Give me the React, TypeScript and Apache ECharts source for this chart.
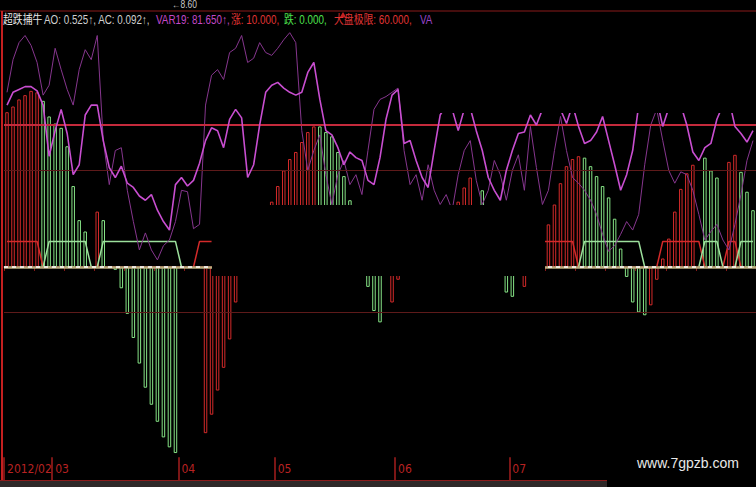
import React, { useEffect, useRef } from "react";
import * as echarts from "echarts";

const _ = null;

// trading-day slots (Feb 2012 .. Aug 2012)
const categories: string[] = Array.from({ length: 125 }, (_v, i) => `T${i + 1}`);
const monthStartIdx = [0, 8, 29, 45, 65, 84];
const monthLabels = ["2012/02", "03", "04", "05", "06", "07"];

// histogram values (R = red, G = green, . = none)
const histValues: (number | null)[] = [
  109, 113, 118, 121, 124, 123, 117, 106, 101, 98,
  85, 57, 33, 25, _, 39, 33, _, -2, -15,
  -33, -50, -68, -85, -97, -109, -120, -127, -131, _,
  _, _, _, -117, -104, -87, -71, -51, -25, _,
  _, _, _, _, 46, 57, 68, 76, 81, 88,
  95, 99, 99, 95, 92, 81, 64, 47, _, _,
  -14, -31, -39, _, -25, -9, _, _, _, _,
  _, _, _, _, _, 46, 56, 63, _, 54,
  _, _, _, -18, -21, _, -14, _, _, _,
  30, 44, 59, 71, 76, 78, 77, 71, 64, 57,
  49, 34, 13, -7, -25, -32, -34, -27, -9, 6,
  20, 39, 55, 66, 72, _, 77, 68, 63, _,
  74, 79, 67, 53, 40,
];
const histColors = [
  "RRRRRRGGGG", "GGGG.RG.GG", "GGGGGGGGG.", "...RRRRRR.", "....RRRRRR",
  "RRGGGGGG..", "GGG.RR....", ".....RRR.G", "...GG.R...", "RRRRRRGGGG",
  "GGGGGGGRRR", "RRRRR.GGG.", "RRGGG",
].join("");

// VAR19 (bright magenta)
const var19Line: number[] = [
  114, 123, 125, 127, 127, 124, 114, 78, 96, 111,
  94, 65, 72, 107, 114, 114, 89, 70, 63, 71,
  59, 56, 50, 47, 51, 40, 32, 26, 58, 63,
  57, 61, 73, 89, 98, 96, 84, 104, 111, 105,
  63, 72, 100, 123, 128, 130, 126, 123, 121, 123,
  137, 144, 118, 96, 93, 84, 72, 81, 77, 75,
  61, 58, 77, 104, 121, 125, 87, 89, 75, 63,
  56, 82, 107, 114, 111, 96, 111, 112, 96, 82,
  63, 54, 47, 68, 82, 94, 95, 107, 100, 111,
  114, 112, 111, 101, 114, 99, 87, 89, 95, 106,
  89, 72, 54, 65, 82, 114, 118, 114, 118, 99,
  112, 118, 114, 100, 81, 75, 84, 87, 104, 114,
  118, 99, 94, 88, 96,
];

// secondary (dim purple)
const dimLine: number[] = [
  123, 146, 158, 163, 156, 144, 121, 128, 154, 139,
  125, 114, 139, 153, 146, 163, 89, 58, 82, 84,
  54, 32, 12, 24, 12, 5, 15, 19, 32, 54,
  53, 27, 30, 114, 135, 139, 132, 151, 154, 163,
  144, 147, 158, 151, 149, 154, 160, 165, 158, 96,
  68, 82, 93, 65, 44, 65, 75, 58, 65, 51,
  82, 111, 118, 120, 123, 126, 82, 58, 65, 47,
  72, 54, 44, 51, 40, 65, 82, 89, 61, 44,
  54, 75, 65, 47, 68, 79, 54, 99, 70, 44,
  54, 82, 106, 82, 63, 59, 54, 47, 37, 23,
  11, 15, 23, 32, 26, 37, 72, 100, 111, 89,
  68, 59, 67, 65, 54, 37, 19, 25, 30, 19,
  12, 30, 51, 75, 89,
];

// plateau signals
const riseSignal: (number | null)[] = [
  18, 18, 18, 18, 18, 18, 0, _, _, _,
  _, _, _, _, _, _, _, _, _, _,
  _, _, _, _, _, _, _, _, _, _,
  _, 0, 18, 18, 18, _, _, _, _, _,
  _, _, _, _, _, _, _, _, _, _,
  _, _, _, _, _, _, _, _, _, _,
  _, _, _, _, _, _, _, _, _, _,
  _, _, _, _, _, _, _, _, _, _,
  _, _, _, _, _, _, _, _, _, 18,
  18, 18, 18, 18, 18, 0, _, _, _, _,
  _, _, _, _, _, _, _, _, 0, 18,
  18, 18, 18, 18, 18, 18, 0, _, _, 0,
  18, 18, 0, _, _,
];
const fallSignal: (number | null)[] = [
  _, _, _, _, _, _, 0, 18, 18, 18,
  18, 18, 18, 18, 0, 0, 18, 18, 18, 18,
  18, 18, 18, 18, 18, 18, 18, 18, 18, 0,
  _, _, _, _, _, _, _, _, _, _,
  _, _, _, _, _, _, _, _, _, _,
  _, _, _, _, _, _, _, _, _, _,
  _, _, _, _, _, _, _, _, _, _,
  _, _, _, _, _, _, _, _, _, _,
  _, _, _, _, _, _, _, _, _, _,
  _, _, _, _, _, 0, 18, 18, 18, 18,
  18, 18, 18, 18, 18, 18, 0, _, _, _,
  _, _, _, _, _, 0, 18, 18, 18, 0,
  _, 0, 18, 18, 18,
];

const refLevels = [100, 68, -32];
const yRange = [-134, 168];

const RED = "#d42a2a";
const GREEN = "#86e486";
const NARROW = "'Liberation Sans Narrow','DejaVu Sans Condensed','Arial Narrow',sans-serif";
const SANS = "'Liberation Sans','Noto Sans CJK SC',sans-serif";

function buildOption(): any {
  const barData = histValues.map((v, i) =>
    v == null
      ? "-"
      : {
          value: v,
          itemStyle: {
            color: "rgba(0,0,0,0)",
            borderColor: histColors[i] === "R" ? RED : GREEN,
            borderWidth: 1,
          },
        }
  );

  const isMonth = (i: number) => monthStartIdx.indexOf(i) >= 0;
  const monthText = (_v: string, i: number) => {
    const k = monthStartIdx.indexOf(i);
    return k >= 0 ? monthLabels[k] : "";
  };
  const labelStyle = {
    color: "#b82222",
    fontSize: 12,
    fontFamily: NARROW,
    align: "left",
    margin: 6,
    showMinLabel: true,
    hideOverlap: false,
    formatter: monthText,
  };

  const titleSegs: [string, number, string][] = [
    ["超跌捕牛", 3, "#e6e6e6"],
    ["AO: 0.525↑, AC: 0.092↑,", 44, "#cfcfcf"],
    ["VAR19: 81.650↑,", 156, "#c448c8"],
    ["涨: 10.000,", 231, "#e03434"],
    ["跌: 0.000,", 284, "#4ee04e"],
    ["大盘极限: 60.000,", 334, "#e03434"],
    ["VA", 420, "#9a44c8"],
  ];

  return {
    backgroundColor: "#000",
    animation: false,
    grid: { left: 4, right: 0, top: 28.4, bottom: 29.7, containLabel: false },
    xAxis: [
      {
        type: "category",
        data: categories,
        boundaryGap: true,
        axisLine: { show: true, lineStyle: { color: "#8c1a1a", width: 1.5 } },
        axisTick: { show: true, interval: 4, length: 4, lineStyle: { color: "#8c1a1a" } },
        axisLabel: { ...labelStyle, show: true, interval: (i: number) => i === monthStartIdx[0] },
        splitLine: { show: false },
      },
      {
        type: "category",
        data: categories,
        boundaryGap: true,
        position: "bottom",
        axisLine: { show: false },
        axisTick: {
          show: true,
          interval: (i: number) => isMonth(i),
          length: 23,
          lineStyle: { color: "#a41e1e", width: 1.5 },
        },
        axisLabel: {
          ...labelStyle,
          show: true,
          interval: (i: number) => isMonth(i) && i !== monthStartIdx[0],
        },
        splitLine: { show: false },
      },
    ],
    yAxis: {
      type: "value",
      min: yRange[0],
      max: yRange[1],
      axisLine: { show: false },
      axisTick: { show: false },
      axisLabel: { show: false },
      splitLine: { show: false },
    },
    series: [
      {
        type: "bar",
        data: barData,
        barWidth: 3.5,
        z: 2,
        markLine: {
          silent: true,
          symbol: ["none", "none"],
          label: { show: false },
          data: [
            { yAxis: refLevels[0], lineStyle: { color: "#c42a3c", width: 2, type: "solid" } },
            { yAxis: refLevels[1], lineStyle: { color: "#5e1a1a", width: 1.2, type: "solid" } },
            { yAxis: refLevels[2], lineStyle: { color: "#5e1a1a", width: 1.2, type: "solid" } },
            { yAxis: 0, lineStyle: { color: "#bcae80", width: 2.5, type: "solid" } },
            { yAxis: 0, lineStyle: { color: "#ffffff", width: 1.5, type: [4, 4] } },
          ],
        },
      },
      {
        type: "line",
        data: riseSignal,
        symbol: "none",
        z: 3,
        lineStyle: { color: RED, width: 1.5 },
      },
      {
        type: "line",
        data: fallSignal,
        symbol: "none",
        z: 3,
        lineStyle: { color: "#9ce09c", width: 1.5 },
      },
      {
        type: "line",
        data: dimLine,
        symbol: "none",
        z: 4,
        lineStyle: { color: "#86368e", width: 1 },
      },
      {
        type: "line",
        data: var19Line,
        symbol: "none",
        z: 5,
        lineStyle: { color: "#c84ed0", width: 1.6 },
      },
    ],
    graphic: [
      // masks that hide parts of the plot
      { type: "rect", z: 50, shape: { x: 212, y: 205, width: 333, height: 71 }, style: { fill: "#000" } },
      { type: "rect", z: 50, shape: { x: 405, y: 28, width: 351, height: 85 }, style: { fill: "#000" } },
      // frame
      { type: "line", z: 60, shape: { x1: 0, y1: 11, x2: 756, y2: 11 }, style: { stroke: "#5c1212", lineWidth: 1.5 } },
      { type: "line", z: 60, shape: { x1: 2, y1: 11, x2: 2, y2: 481 }, style: { stroke: "#c42020", lineWidth: 2 } },
      { type: "line", z: 60, shape: { x1: 0, y1: 480.5, x2: 607, y2: 480.5 }, style: { stroke: "#8c1a1a", lineWidth: 1 } },
      { type: "rect", z: 60, shape: { x: 0, y: 481, width: 607, height: 6 }, style: { fill: "#2e2828" } },
      { type: "rect", z: 60, shape: { x: 608, y: 456, width: 148, height: 31 }, style: { fill: "#000" } },
      {
        type: "text", z: 61, x: 637, y: 463,
        style: { text: "www.7gpzb.com", fill: "#e8e8e8", fontSize: 14, fontFamily: SANS, verticalAlign: "middle" },
      },
      // title line
      ...titleSegs.map(([t, x, c]) => ({
        type: "text", z: 61, x, y: 20, scaleX: 0.82,
        style: { text: t, fill: c, fontSize: 12, fontFamily: SANS, verticalAlign: "middle" },
      })),
      {
        type: "text", z: 61, x: 172, y: 5, scaleX: 0.85,
        style: { text: "←8.60", fill: "#c8c8c8", fontSize: 10, fontFamily: SANS, verticalAlign: "middle" },
      },
      {
        type: "polygon", z: 61,
        shape: { points: [[340, 17], [343, 12], [346, 17]] },
        style: { fill: "#c42020" },
      },
    ],
  };
}

export default function App() {
  const ref = useRef<HTMLDivElement>(null);
  useEffect(() => {
    if (!ref.current) return;
    const chart = echarts.init(ref.current, null, { renderer: "svg" });
    chart.setOption(buildOption());
    return () => chart.dispose();
  }, []);
  return (
    <div
      ref={ref}
      style={{ position: "fixed", left: 0, top: 0, width: 756, height: 487, background: "#000" }}
    />
  );
}
